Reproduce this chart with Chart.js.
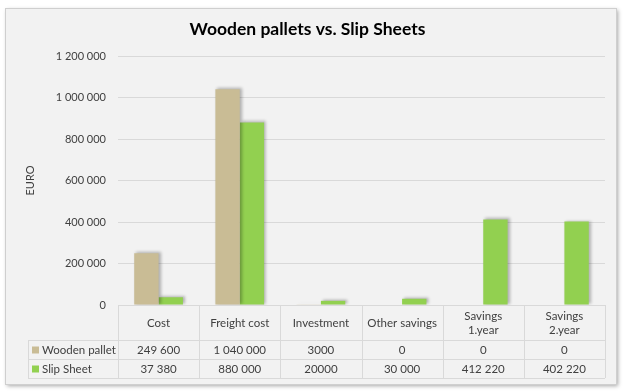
<!DOCTYPE html>
<html>
<head>
<meta charset="utf-8">
<script src="https://cdn.jsdelivr.net/npm/chart.js@4"></script>
<style>
  html, body { margin: 0; padding: 0; background: #fff; }
  #wrap { width: 630px; height: 392px; }
</style>
</head>
<body>
<div id="wrap"><canvas id="chart" width="630" height="392"></canvas></div>
<script>
var categories = ['Cost', 'Freight cost', 'Investment', 'Other savings', ['Savings', '1.year'], ['Savings', '2.year']];
var woodenPallet = [249600, 1040000, 3000, 0, 0, 0];
var slipSheet = [37380, 880000, 20000, 30000, 412220, 402220];
var woodenLabels = ['249 600', '1 040 000', '3000', '0', '0', '0'];
var slipLabels = ['37 380', '880 000', '20000', '30 000', '412 220', '402 220'];

var FONT = 'Lato, "Open Sans", sans-serif';
var woodenColor = '#c9bc95';
var slipColor = '#92d050';
var lineColor = '#d9d9d9';

function spaced(v) {
    return String(v).replace(/\B(?=(\d{3})+(?!\d))/g, ' ');
}

// outer frame behind everything
var framePlugin = {
    id: 'frame',
    beforeDraw: function(chart) {
        var ctx = chart.ctx;
        ctx.save();
        ctx.shadowColor = 'rgba(0,0,0,0.35)';
        ctx.shadowBlur = 4;
        ctx.shadowOffsetX = 2;
        ctx.shadowOffsetY = 2;
        ctx.fillStyle = '#f2f2f2';
        ctx.fillRect(5, 8, 611, 376);
        ctx.restore();
        ctx.save();
        ctx.strokeStyle = '#cfcfcf';
        ctx.lineWidth = 1;
        ctx.strokeRect(5.5, 8.5, 611, 376);
        ctx.restore();
    }
};

// soft shadow on the bars
var barShadow = {
    id: 'barShadow',
    beforeDatasetDraw: function(chart) {
        var ctx = chart.ctx;
        ctx.save();
        ctx.shadowColor = 'rgba(0,0,0,0.28)';
        ctx.shadowBlur = 3;
        ctx.shadowOffsetX = 2;
        ctx.shadowOffsetY = -1;
    },
    afterDatasetDraw: function(chart) {
        chart.ctx.restore();
    }
};

// data table under the plot, like the spreadsheet one
var dataTable = {
    id: 'dataTable',
    afterDraw: function(chart) {
        var ctx = chart.ctx;
        var area = chart.chartArea;
        var x = chart.scales.x;
        var n = categories.length;
        var step = (area.right - area.left) / n;
        var top = area.bottom;
        var row1 = top + 35;
        var row2 = row1 + 19;
        var bottom = row2 + 19;
        var leftEdge = 28;

        ctx.save();
        ctx.strokeStyle = lineColor;
        ctx.lineWidth = 1;
        ctx.beginPath();
        [row1, row2, bottom].forEach(function(y) {
            ctx.moveTo(leftEdge, Math.round(y) + 0.5);
            ctx.lineTo(area.right, Math.round(y) + 0.5);
        });
        for (var i = 0; i <= n; i++) {
            var bx = Math.round(area.left + i * step) + 0.5;
            ctx.moveTo(bx, top);
            ctx.lineTo(bx, bottom);
        }
        ctx.moveTo(leftEdge + 0.5, row1);
        ctx.lineTo(leftEdge + 0.5, bottom);
        ctx.stroke();

        ctx.fillStyle = '#404040';
        ctx.font = '11.5px ' + FONT;
        ctx.textAlign = 'center';
        ctx.textBaseline = 'middle';
        for (var j = 0; j < n; j++) {
            var cx = x.getPixelForValue(j);
            var lab = categories[j];
            if (Array.isArray(lab)) {
                ctx.fillText(lab[0], cx, top + 11);
                ctx.fillText(lab[1], cx, top + 25);
            } else {
                ctx.fillText(lab, cx, top + 18);
            }
            ctx.fillText(woodenLabels[j], cx, (row1 + row2) / 2 + 1);
            ctx.fillText(slipLabels[j], cx, (row2 + bottom) / 2 + 1);
        }

        ctx.textAlign = 'left';
        ctx.fillStyle = woodenColor;
        ctx.fillRect(32, (row1 + row2) / 2 - 3, 7, 7);
        ctx.fillStyle = slipColor;
        ctx.fillRect(32, (row2 + bottom) / 2 - 3, 7, 7);
        ctx.fillStyle = '#404040';
        ctx.fillText('Wooden pallet', 42, (row1 + row2) / 2 + 1);
        ctx.fillText('Slip Sheet', 42, (row2 + bottom) / 2 + 1);
        ctx.restore();
    }
};

new Chart(document.getElementById('chart'), {
    type: 'bar',
    data: {
        labels: categories,
        datasets: [{
            label: 'Wooden pallet',
            data: woodenPallet,
            backgroundColor: woodenColor,
            categoryPercentage: 0.6,
            barPercentage: 1.0
        }, {
            label: 'Slip Sheet',
            data: slipSheet,
            backgroundColor: slipColor,
            categoryPercentage: 0.6,
            barPercentage: 1.0
        }]
    },
    options: {
        responsive: false,
        animation: false,
        layout: {
            padding: { left: 10, right: 25, top: 0, bottom: 87 }
        },
        plugins: {
            legend: { display: false },
            tooltip: { enabled: false },
            title: {
                display: true,
                text: 'Wooden pallets vs. Slip Sheets',
                color: '#000',
                font: { family: FONT, size: 17.5, weight: 'bold' },
                padding: { top: 19, bottom: 16 }
            }
        },
        scales: {
            x: {
                display: false
            },
            y: {
                min: 0,
                max: 1200000,
                ticks: {
                    stepSize: 200000,
                    color: '#404040',
                    font: { family: FONT, size: 11 },
                    padding: 12,
                    callback: function(v) { return spaced(v); }
                },
                grid: { color: lineColor, drawTicks: false },
                border: { display: false },
                title: {
                    display: true,
                    text: 'EURO',
                    color: '#404040',
                    font: { family: FONT, size: 11 },
                    padding: { top: 14, bottom: 0 }
                },
                afterFit: function(scale) { scale.width = 108; }
            }
        }
    },
    plugins: [framePlugin, barShadow, dataTable]
});
</script>
</body>
</html>
